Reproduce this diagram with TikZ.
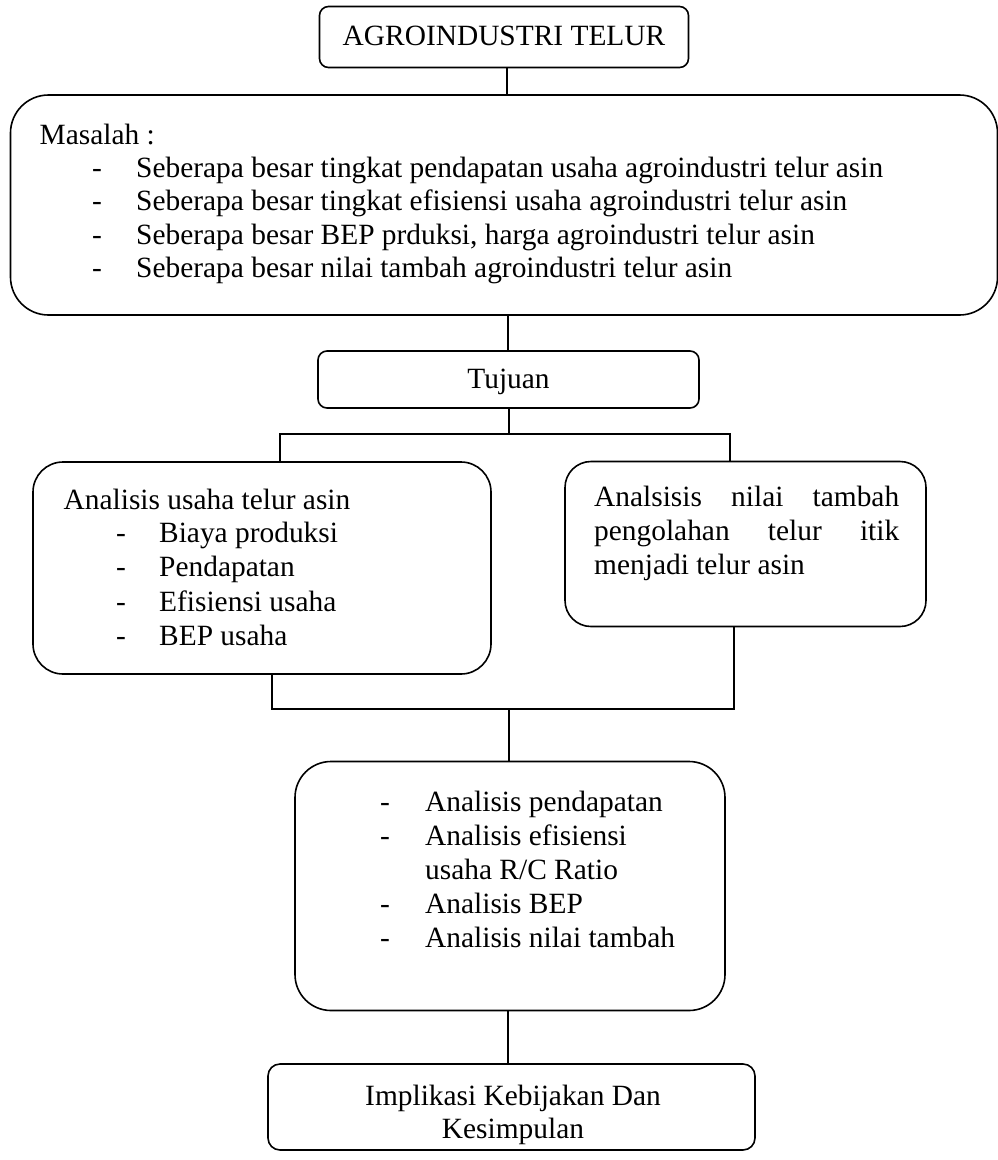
\documentclass[tikz,border=0pt]{standalone}
\usepackage{fontspec}
\setmainfont{Liberation Serif}
\begin{document}
\begin{tikzpicture}[x=1pt,y=-1pt,
  box/.style={draw=black,line width=1.6pt,inner sep=0pt},
  con/.style={draw=black,line width=1.5pt},
  txt/.style={inner sep=0pt,anchor=west,text height=20pt,text depth=6pt,font=\fontsize{29.4}{33}\selectfont}]
\useasboundingbox (0,0) rectangle (998,1160);
% boxes
\node[box,rounded corners=9pt,minimum width=369pt,minimum height=61pt] (b1) at (504,37) {};
\node[box,rounded corners=38pt,minimum width=987pt,minimum height=220pt] (b2) at (504,205) {};
\node[box,rounded corners=9pt,minimum width=381pt,minimum height=57pt] (b3) at (508.5,379.5) {};
\node[box,rounded corners=30pt,minimum width=458pt,minimum height=212pt] (b4) at (262,568) {};
\node[box,rounded corners=26pt,minimum width=361pt,minimum height=165pt] (b5) at (745.5,544) {};
\node[box,rounded corners=36pt,minimum width=430pt,minimum height=249pt] (b6) at (510,886) {};
\node[box,rounded corners=12pt,minimum width=487pt,minimum height=86pt] (b7) at (511.5,1107) {};
% texts
\node[txt,anchor=center] (t1) at (504,38) {AGROINDUSTRI TELUR};
\node[txt] (m0) at (39.5,137) {Masalah :};
\node[txt] (m1d) at (92,170) {-};
\node[txt] (m1) at (136,170) {Seberapa besar tingkat pendapatan usaha agroindustri telur asin};
\node[txt] (m2d) at (92,203) {-};
\node[txt] (m2) at (136,203) {Seberapa besar tingkat efisiensi usaha agroindustri telur asin};
\node[txt] (m3d) at (92,237) {-};
\node[txt] (m3) at (136,237) {Seberapa besar BEP prduksi, harga agroindustri telur asin};
\node[txt] (m4d) at (92,270) {-};
\node[txt] (m4) at (136,270) {Seberapa besar nilai tambah agroindustri telur asin};
\node[txt,anchor=center] (t3) at (508.5,381) {Tujuan};
\node[txt] (l0) at (63.5,502) {Analisis usaha telur asin};
\node[txt] (l1d) at (116,535) {-};
\node[txt] (l1) at (159,535) {Biaya produksi};
\node[txt] (l2d) at (116,569) {-};
\node[txt] (l2) at (159,569) {Pendapatan};
\node[txt] (l3d) at (116,604) {-};
\node[txt] (l3) at (159,604) {Efisiensi usaha};
\node[txt] (l4d) at (116,638) {-};
\node[txt] (l4) at (159,638) {BEP usaha};
\node[txt] (r1) at (594,499) {\hbox to 305pt{Analsisis\hfill nilai\hfill tambah}};
\node[txt] (r2) at (594,533) {\hbox to 305pt{pengolahan\hfill telur\hfill itik}};
\node[txt] (r3) at (594,567) {menjadi telur asin};
\node[txt] (c1d) at (380,804) {-};
\node[txt] (c1) at (425,804) {Analisis pendapatan};
\node[txt] (c2d) at (380,838) {-};
\node[txt] (c2) at (425,838) {Analisis efisiensi};
\node[txt] (c2b) at (425,872) {usaha R/C Ratio};
\node[txt] (c3d) at (380,906) {-};
\node[txt] (c3) at (425,906) {Analisis BEP};
\node[txt] (c4d) at (380,940) {-};
\node[txt] (c4) at (425,940) {Analisis nilai tambah};
\node[txt,anchor=center] (k1) at (513,1098) {Implikasi Kebijakan Dan};
\node[txt,anchor=center] (k2) at (513,1131) {Kesimpulan};
% junctions
\coordinate (j1) at (509,434);
\coordinate (j1L) at (280,434);
\coordinate (j1R) at (730,434);
\coordinate (j2) at (509,709);
\coordinate (j2L) at (272,709);
\coordinate (j2R) at (734,709);
% connectors
\draw[con] (b1.south -| 507,0) -- (b2.north -| 507,0);
\draw[con] (b2.south -| 508,0) -- (b3.north -| 508,0);
\draw[con] (b3.south -| j1) -- (j1);
\draw[con] (j1L |- b4.north) -- (j1L) -- (j1R) -- (j1R |- b5.north);
\draw[con] (j2L |- b4.south) -- (j2L) -- (j2R) -- (j2R |- b5.south);
\draw[con] (j2) -- (j2 |- b6.north);
\draw[con] (b6.south -| 508,0) -- (b7.north -| 508,0);
\end{tikzpicture}
\end{document}
